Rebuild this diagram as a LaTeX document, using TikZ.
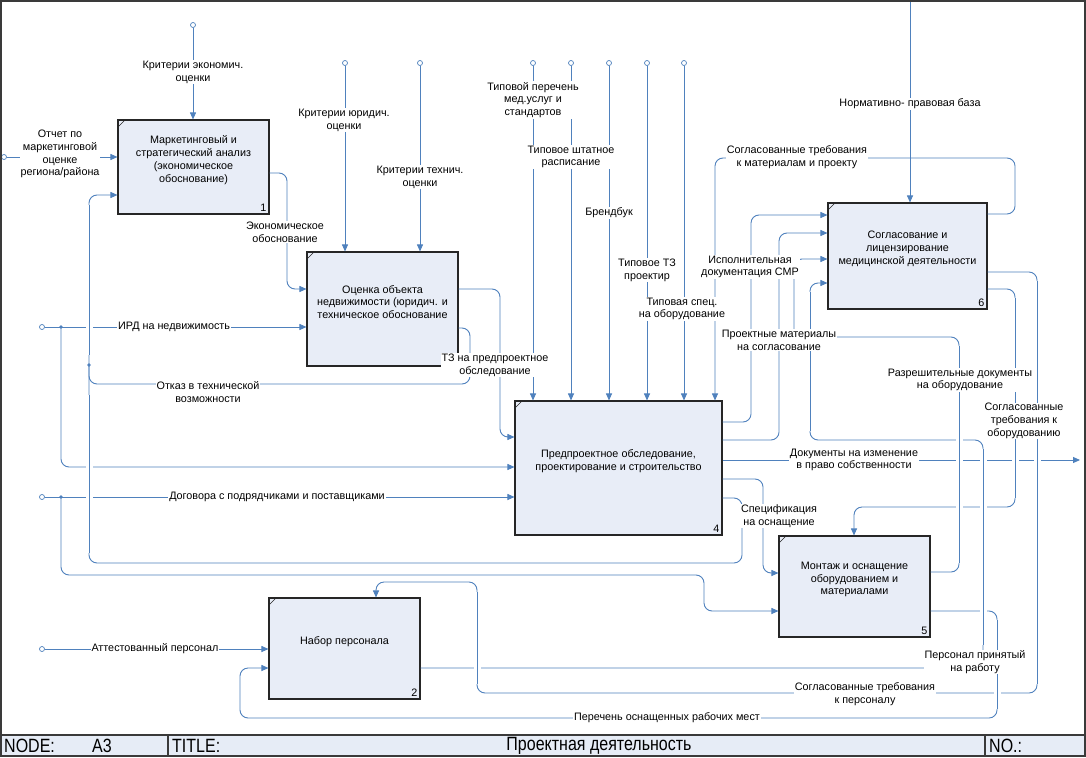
\documentclass[tikz,border=0pt]{standalone}
\usepackage{fontspec}
\setmainfont{Liberation Sans}
\usetikzlibrary{arrows.meta}
\definecolor{conn}{HTML}{4F81BD}
\definecolor{boxfill}{HTML}{E8EDF7}
\definecolor{barfill}{HTML}{E6ECF6}
\definecolor{framec}{HTML}{3A3A3A}
\begin{document}
\begin{tikzpicture}[x=1pt,y=-1pt,
  txt/.style={font=\fontsize{10.8}{12.8}\selectfont, align=center},
  lab/.style={txt, fill=white, inner sep=0.8pt},
  box/.style={draw=black!85, fill=boxfill, line width=1.1pt, inner sep=0pt,
    path picture={\draw[black!85, line width=0.6pt]
      ([yshift=-7pt]path picture bounding box.north west) -- ([xshift=7pt]path picture bounding box.north west);}},
  boxtext/.style={txt, yshift=7pt, inner sep=0pt},
  num/.style={txt, anchor=south east, inner sep=3pt},
  conn/.style={draw=conn, line width=0.9pt, rounded corners=8pt},
  arr/.style={conn, -{Triangle[length=7pt,width=6pt]}},
  bridge/.style={draw=conn, line width=0.9pt, preaction={draw=white, line width=7pt}},
  tun/.style={circle, draw=conn, fill=white, inner sep=0pt, minimum size=5pt, line width=0.7pt},
  dotn/.style={circle, fill=conn, inner sep=0pt, minimum size=3.6pt},
  ttl/.style={font=\fontsize{16}{18}\selectfont, inner sep=0pt}
]
\useasboundingbox (0,0) rectangle (1086,757);
\fill[white] (0,0) rectangle (1086,757);

% ---------- boxes ----------
\node[box, minimum width=151pt, minimum height=94pt,
  label={[boxtext]center:{Маркетинговый и\\стратегический анализ\\(экономическое\\обоснование)}},
  label={[num]south east:1}] (b1) at (193.5,167) {};
\node[box, minimum width=151pt, minimum height=101pt,
  label={[boxtext]center:{Набор персонала}},
  label={[num]south east:2}] (b2) at (344.5,648.5) {};
\node[box, minimum width=151pt, minimum height=114pt,
  label={[boxtext]center:{Оценка объекта\\недвижимости (юридич. и\\техническое обоснование}}] (b3) at (382.5,309) {};
\node[box, minimum width=207pt, minimum height=134pt,
  label={[boxtext]center:{Предпроектное обследование,\\проектирование и строительство}},
  label={[num]south east:4}] (b4) at (618.5,468) {};
\node[box, minimum width=151pt, minimum height=101pt,
  label={[boxtext]center:{Монтаж и оснащение\\оборудованием и\\материалами}},
  label={[num]south east:5}] (b5) at (854.5,586.5) {};
\node[box, minimum width=159pt, minimum height=106pt,
  label={[boxtext]center:{Согласование и\\лицензирование\\медицинской деятельности}},
  label={[num]south east:6}] (b6) at (907.5,256) {};

% ---------- tunnels, junctions, free ends ----------
\node[tun] (tc1) at (193,25) {};
\node[tun] (tc2) at (345,63) {};
\node[tun] (tc3) at (420,63) {};
\node[tun] (tc4) at (533,63) {};
\node[tun] (tc5) at (571,63) {};
\node[tun] (tc6) at (609,63) {};
\node[tun] (tc7) at (647,63) {};
\node[tun] (tc8) at (684,63) {};
\node[tun] (ti1) at (4,157) {};
\node[tun] (ti2) at (42,327) {};
\node[tun] (ti3) at (42,497) {};
\node[tun] (ti4) at (42,649) {};
\coordinate (nt) at (910,2);
\coordinate (outR) at (1080,460);

% ---------- boundary arrows ----------
\draw[arr] (tc1) -- (tc1|-b1.north);
\draw[arr] (tc2) -- (tc2|-b3.north);
\draw[arr] (tc3) -- (tc3|-b3.north);
\draw[arr] (tc4) -- (tc4|-b4.north);
\draw[arr] (tc5) -- (tc5|-b4.north);
\draw[arr] (tc6) -- (tc6|-b4.north);
\draw[arr] (tc7) -- (tc7|-b4.north);
\draw[arr] (tc8) -- (tc8|-b4.north);
\draw[arr] (nt) -- (nt|-b6.north);
\draw[arr] (ti1) -- (ti1-|b1.west);
\draw[arr] (ti2) -- (ti2-|b3.west);
\draw[arr] (61,327) -- (61,467) -- (b4.west|-0,467);
\draw[arr] (ti3) -- (ti3-|b4.west);
\draw[arr] (61,497) -- (61,575) -- (704,575) -- (704,611) -- (b5.west|-0,611);
\draw[arr] (ti4) -- (ti4-|b2.west);

% ---------- internal arrows ----------
\draw[arr] (b1.east|-0,173) -- (287,173) -- (287,289) -- (b3.west|-0,289);
\draw[arr] (b3.east|-0,289) -- (500,289) -- (500,437) -- (b4.west|-0,437);
\draw[conn] (b3.east|-0,328) -- (470,328) -- (470,384) -- (89,384) -- (89,365);
\draw[arr] (b4.east|-0,498) -- (742,498) -- (742,563) -- (89,563) -- (89,195) -- (b1.west|-0,195);
\draw[arr] (b4.east|-0,422) -- (751,422) -- (751,215) -- (b6.west|-0,215);
\draw[arr] (b4.east|-0,440) -- (779,440) -- (779,233) -- (b6.west|-0,233);
\draw[arr] (b4.east|-0,460) -- (outR);
\draw[arr] (b4.east|-0,479) -- (763,479) -- (763,573) -- (b5.west|-0,573);
\draw[arr] (b6.east|-0,214) -- (1015,214) -- (1015,158) -- (715,158) -- (715,0|-b4.north);
\draw[arr] (b6.east|-0,272) -- (1037,272) -- (1037,693) -- (477,693) -- (477,582) -- (376,582) -- (376,0|-b2.north);
\draw[arr] (b6.east|-0,289) -- (1015,289) -- (1015,507) -- (854,507) -- (854,0|-b5.north);
\draw[arr] (b5.east|-0,572) -- (959,572) -- (959,337) -- (794,337) -- (794,259) -- (b6.west|-0,259);
\draw[arr] (b2.east|-0,668) -- (983,668) -- (983,440) -- (810,440) -- (810,283) -- (b6.west|-0,283);
\draw[arr] (b5.east|-0,611) -- (997,611) -- (997,718) -- (240,718) -- (240,668) -- (b2.west|-0,668);

% ---------- crossing gaps ----------
\draw[bridge] (89,205) -- (89,355);
\draw[bridge] (89,395) -- (89,553);
\draw[bridge] (477,592) -- (477,684);
\draw[bridge] (959,346) -- (959,563);
\draw[bridge] (983,449) -- (983,645);
\draw[bridge] (1015,298) -- (1015,498);
\draw[bridge] (1037,281) -- (1037,684);
\draw[bridge] (997,620) -- (997,709);
\draw[bridge] (810,292) -- (810,431);

\node[dotn] (d1) at (61,327) {};
\node[dotn] (d2) at (61,497) {};
\node[dotn] (d3) at (89,365) {};

% ---------- labels ----------
\node[lab] (l1) at (193,72) {Критерии экономич.\\оценки};
\node[lab] (l2) at (60,154) {Отчет по\\маркетинговой\\оценке\\региона/района};
\node[lab] (l3) at (344,120) {Критерии юридич.\\оценки};
\node[lab] (l4) at (420,177) {Критерии технич.\\оценки};
\node[lab] (l5) at (285,232) {Экономическое\\обоснование};
\node[lab] (l6) at (533,100) {Типовой перечень\\мед.услуг и\\стандартов};
\node[lab] (l7) at (571,157) {Типовое штатное\\расписание};
\node[lab] (l8) at (609,213) {Брендбук};
\node[lab] (l9) at (647,270) {Типовое ТЗ\\проектир};
\node[lab] (l10) at (682,309) {Типовая спец.\\на оборудование};
\node[lab] (l11) at (174,327) {ИРД на недвижимость};
\node[lab] (l12) at (208,392) {Отказ в технической\\возможности};
\node[lab] (l13) at (495,365) {ТЗ на предпроектное\\обследование};
\node[lab] (l14) at (277,497) {Договора с подрядчиками и поставщиками};
\node[lab] (l15) at (155,649) {Аттестованный персонал};
\node[lab] (l16) at (910,104) {Нормативно- правовая база};
\node[lab] (l17) at (797,157) {Согласованные требования\\к материалам и проекту};
\node[lab] (l18) at (750,267) {Исполнительная\\документация СМР};
\node[lab] (l19) at (779,340) {Проектные материалы\\на согласование};
\node[lab] (l20) at (960,380) {Разрешительные документы\\на оборудование};
\node[lab] (l21) at (1024,421) {Согласованные\\требования к\\оборудованию};
\node[lab] (l22) at (854,460) {Документы на изменение\\в право собственности};
\node[lab] (l23) at (779,516) {Спецификация\\на оснащение};
\node[lab] (l24) at (975,662) {Персонал принятый\\на работу};
\node[lab] (l25) at (865,694) {Согласованные требования\\к персоналу};
\node[lab] (l26) at (667,718) {Перечень оснащенных рабочих мест};

% ---------- frame and title bar ----------
\draw[framec, line width=1.5pt] (1,1) rectangle (1085,756);
\draw[framec, line width=1.5pt, fill=barfill] (1,735) rectangle (1085,756);
\draw[framec, line width=1.5pt] (168,735) -- (168,756);
\draw[framec, line width=1.5pt] (985,735) -- (985,756);
\node[ttl, anchor=west] (tn) at (4,746) {\scalebox{1}[1.2]{NODE:}};
\node[ttl, anchor=west] (ta) at (92,746) {\scalebox{1}[1.2]{A3}};
\node[ttl, anchor=west] (tt) at (172,746) {\scalebox{1}[1.2]{TITLE:}};
\node[ttl] (tp) at (599,746) {\scalebox{1}[1.2]{Проектная деятельность}};
\node[ttl, anchor=west] (tno) at (989,746) {\scalebox{1}[1.2]{NO.:}};
\end{tikzpicture}
\end{document}
